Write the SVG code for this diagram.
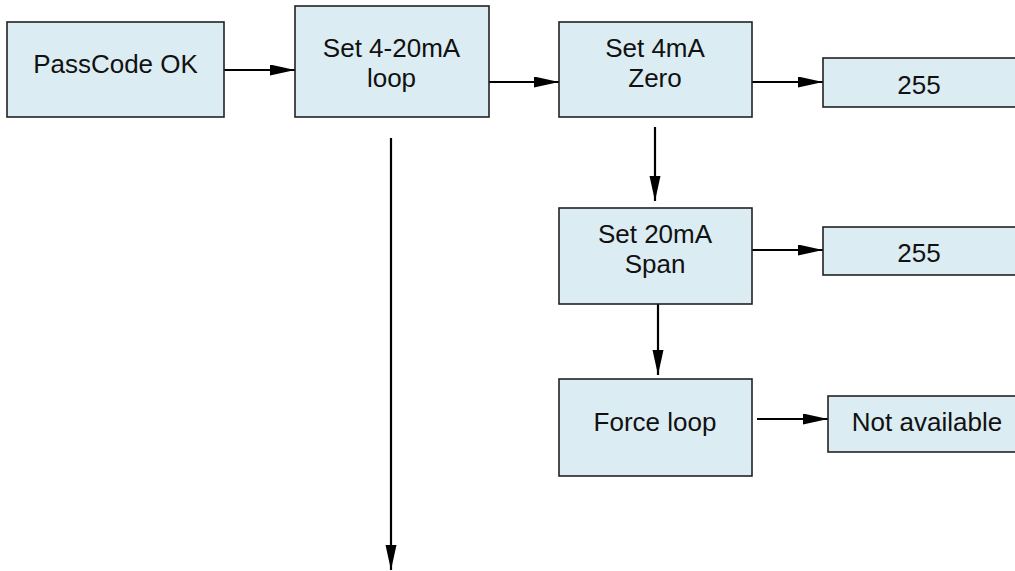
<svg xmlns="http://www.w3.org/2000/svg" width="1015" height="571" viewBox="0 0 1015 571">
<style>
.box{fill:#dbecf2;stroke:#222;stroke-width:1.6}
.lbl{font-family:"Liberation Sans",Arial,sans-serif;font-size:26px;fill:#111;text-anchor:middle}
.con{stroke:#000;stroke-width:2.2;fill:none;marker-end:url(#ah)}
</style>
<defs>
<marker id="ah" markerUnits="userSpaceOnUse" markerWidth="26" markerHeight="12" refX="25" refY="5.5" orient="auto">
<path d="M0,0 L25,5.5 L0,11 Z" fill="#000"/>
</marker>
</defs>
<rect width="1015" height="571" fill="#fff"/>
<g id="connectors">
<line class="con" x1="224" y1="70" x2="295" y2="70"/>
<line class="con" x1="489" y1="82" x2="559" y2="82"/>
<line class="con" x1="752" y1="82" x2="823" y2="82"/>
<line class="con" x1="655" y1="127" x2="655" y2="201"/>
<line class="con" x1="752" y1="250" x2="823" y2="250"/>
<line class="con" x1="658" y1="304" x2="658" y2="375"/>
<line class="con" x1="757" y1="419" x2="828" y2="419"/>
<line class="con" x1="391" y1="138" x2="391" y2="570"/>
</g>
<g id="passcode">
<rect class="box" x="7" y="22" width="217" height="95"/>
<text class="lbl" x="115.5" y="73">PassCode OK</text>
</g>
<g id="set420">
<rect class="box" x="295" y="6" width="194" height="111"/>
<text class="lbl" x="391.5" y="57">Set 4-20mA</text>
<text class="lbl" x="391.5" y="87">loop</text>
</g>
<g id="set4">
<rect class="box" x="559" y="22" width="193" height="95"/>
<text class="lbl" x="655" y="57">Set 4mA</text>
<text class="lbl" x="655" y="87">Zero</text>
</g>
<g id="val1">
<rect class="box" x="823" y="58" width="200" height="49"/>
<text class="lbl" x="919" y="94">255</text>
</g>
<g id="set20">
<rect class="box" x="559" y="208" width="193" height="96"/>
<text class="lbl" x="655" y="243">Set 20mA</text>
<text class="lbl" x="655" y="273">Span</text>
</g>
<g id="val2">
<rect class="box" x="823" y="227" width="200" height="48"/>
<text class="lbl" x="919" y="262">255</text>
</g>
<g id="force">
<rect class="box" x="559" y="379" width="193" height="97"/>
<text class="lbl" x="655" y="431">Force loop</text>
</g>
<g id="na">
<rect class="box" x="828" y="396" width="195" height="56"/>
<text class="lbl" x="927" y="431">Not available</text>
</g>
</svg>
